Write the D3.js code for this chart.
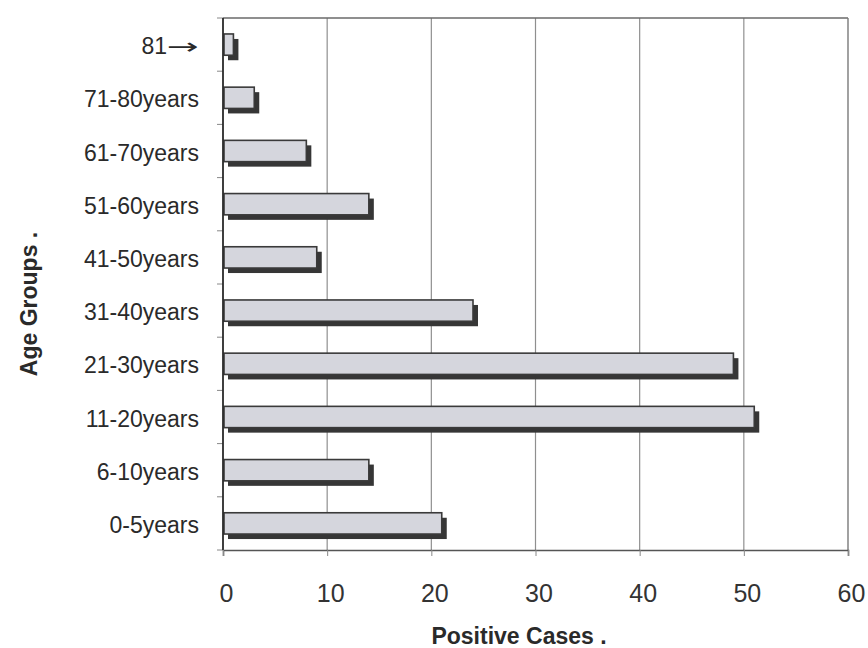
<!DOCTYPE html>
<html>
<head>
<meta charset="utf-8">
<script src="https://cdn.jsdelivr.net/npm/d3@7/dist/d3.min.js"></script>
<style>
  html, body { margin: 0; padding: 0; background: #ffffff; }
  svg { display: block; }
  text { font-family: "Liberation Sans", Arial, sans-serif; }
</style>
</head>
<body>
<svg id="chart" width="868" height="648"></svg>
<script>
// Data (top to bottom as displayed)
const categories = ["81\u2192", "71-80years", "61-70years", "51-60years", "41-50years",
                    "31-40years", "21-30years", "11-20years", "6-10years", "0-5years"];
const positiveCases = [1, 3, 8, 14, 9, 24, 49, 51, 14, 21];
const xTicks = [0, 10, 20, 30, 40, 50, 60];
const xTitle = "Positive Cases .";
const yTitle = "Age Groups .";

(function () {
const svg = d3.select("#chart");
const W = 868, H = 648;
const mLeft = 223, mRight = 848, mTop = 18, mBottom = 550;

svg.append("rect").attr("width", W).attr("height", H).attr("fill", "#ffffff");

const x = d3.scaleLinear().domain([0, 60]).range([mLeft, mRight]);
const y = d3.scaleBand().domain(categories).range([mTop, mBottom]).paddingInner(0).paddingOuter(0);

// gridlines
svg.append("g")
  .selectAll("line")
  .data(xTicks.filter(t => t > 0 && t < 60))
  .join("line")
  .attr("x1", d => x(d)).attr("x2", d => x(d))
  .attr("y1", mTop).attr("y2", mBottom)
  .attr("stroke", "#8f8f8f").attr("stroke-width", 1.2);

// plot frame top & right
svg.append("line").attr("x1", mLeft).attr("x2", mRight).attr("y1", mTop).attr("y2", mTop)
  .attr("stroke", "#6a6a6a").attr("stroke-width", 1.6);
svg.append("line").attr("x1", mRight).attr("x2", mRight).attr("y1", mTop).attr("y2", mBottom)
  .attr("stroke", "#7a7a7a").attr("stroke-width", 1.4);

// bars
const barH = y.bandwidth() * 0.4;
const off = 5;
const bars = svg.append("g");
bars.selectAll("rect.shadow")
  .data(positiveCases)
  .join("rect")
  .attr("class", "shadow")
  .attr("x", x(0) + off)
  .attr("y", (d, i) => y(categories[i]) + (y.bandwidth() - barH) / 2 + off)
  .attr("width", d => x(d) - x(0))
  .attr("height", barH)
  .attr("fill", "#363636");
bars.selectAll("rect.bar")
  .data(positiveCases)
  .join("rect")
  .attr("class", "bar")
  .attr("x", x(0) + 1)
  .attr("y", (d, i) => y(categories[i]) + (y.bandwidth() - barH) / 2)
  .attr("width", d => x(d) - x(0) - 1)
  .attr("height", barH)
  .attr("fill", "#d5d6dd")
  .attr("stroke", "#3a3a3a")
  .attr("stroke-width", 1.6);

// y axis: labels
const yAxis = d3.axisLeft(y).tickSize(0).tickPadding(24);
const gy = svg.append("g").attr("transform", `translate(${mLeft},0)`).call(yAxis);
gy.select(".domain").remove();
gy.selectAll("text")
  .attr("font-size", 23)
  .attr("fill", "#2a2a2a")
  .attr("dy", "0.42em")
  .style("font-family", "'Liberation Sans', Arial, sans-serif");

// render the arrow label with a wide, thin arrow glyph
gy.selectAll(".tick text").each(function (d) {
  if (d.indexOf("\u2192") >= 0) {
    const t = d3.select(this);
    const parts = d.split("\u2192");
    t.text(null);
    t.append("tspan").text(parts[0]);
    t.append("tspan")
      .style("font-family", "'DejaVu Sans', sans-serif")
      .attr("font-size", 22)
      .attr("dx", 0)
      .attr("textLength", 32)
      .attr("lengthAdjust", "spacingAndGlyphs")
      .text("\u2192");
  }
});

// y boundary ticks
const bounds = categories.map(c => y(c)).concat([mBottom]);
svg.append("g").selectAll("line").data(bounds).join("line")
  .attr("x1", mLeft - 6).attr("x2", mLeft)
  .attr("y1", d => d).attr("y2", d => d)
  .attr("stroke", "#888").attr("stroke-width", 1);

// left axis line
svg.append("line").attr("x1", mLeft).attr("x2", mLeft).attr("y1", mTop).attr("y2", mBottom)
  .attr("stroke", "#2a2a2a").attr("stroke-width", 1.8);

// x axis
const xAxis = d3.axisBottom(x).tickValues(xTicks).tickSize(6).tickPadding(28).tickFormat(d3.format("d"));
const gx = svg.append("g").attr("transform", `translate(0,${mBottom})`).call(xAxis);
gx.select(".domain").attr("stroke", "#555").attr("stroke-width", 1.6);
gx.selectAll(".tick line").attr("stroke", "#888");
gx.selectAll("text")
  .attr("font-size", 25)
  .attr("fill", "#333")
  .attr("dx", 3)
  .style("font-family", "'Liberation Sans', Arial, sans-serif");

// titles
svg.append("text")
  .attr("x", 519).attr("y", 644)
  .attr("text-anchor", "middle")
  .attr("font-size", 23).attr("font-weight", "bold").attr("fill", "#2a2a2a")
  .text(xTitle);
svg.append("text")
  .attr("transform", "translate(37,304) rotate(-90)")
  .attr("text-anchor", "middle")
  .attr("font-size", 23).attr("font-weight", "bold").attr("fill", "#2a2a2a")
  .text(yTitle);
})();
</script>
</body>
</html>
